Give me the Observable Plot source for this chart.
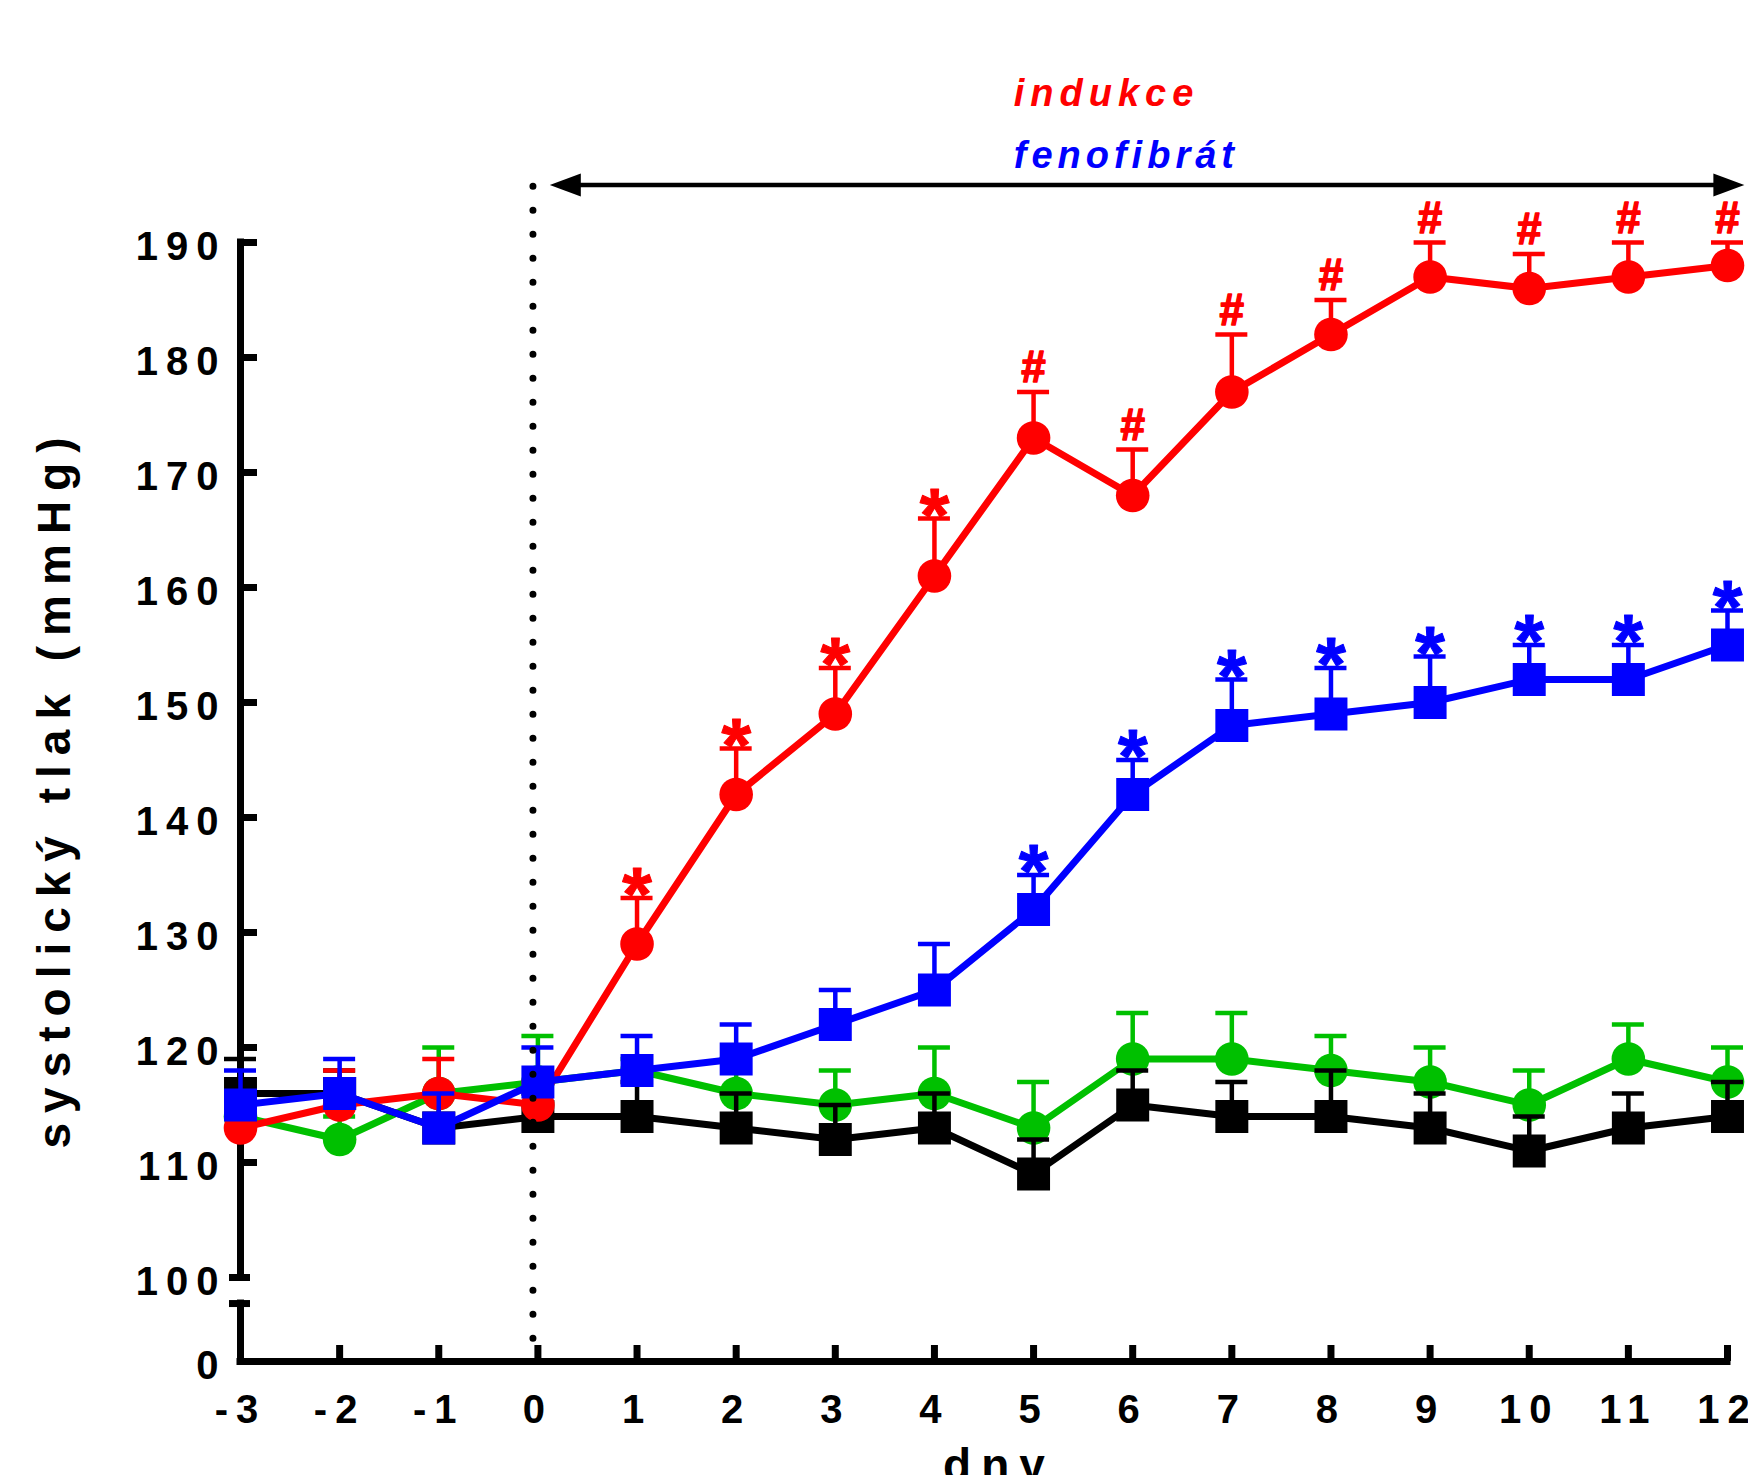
<!DOCTYPE html>
<html>
<head>
<meta charset="utf-8">
<script src="https://cdn.jsdelivr.net/npm/d3@7"></script>
<script src="https://cdn.jsdelivr.net/npm/@observablehq/plot@0.6"></script>
<style>
html, body { margin: 0; padding: 0; background: #fff; overflow: hidden; }
#chart svg { display: block; }
</style>
</head>
<body>
<div id="chart"></div>
<script>
// ---- data ----
const days = [-3, -2, -1, 0, 1, 2, 3, 4, 5, 6, 7, 8, 9, 10, 11, 12];

const greenMean  = [114, 112, 116, 117, 118, 116, 115, 116, 113, 119, 119, 118, 117, 115, 119, 117];
const greenUpper = [116, 114, 120, 121, 119, 119, 118, 120, 117, 123, 123, 121, 120, 118, 122, 120];

const blackMean  = [116, 116, 113, 114, 114, 113, 112, 113, 109, 115, 114, 114, 113, 111, 113, 114];
const blackUpper = [119, 118, 116, 116, 117, 116, 115, 116, 112, 118, 117, 118, 116, 114, 116, 117];

const redMean  = [113, 115, 116, 115, 129, 142, 149, 161, 173, 168, 177, 182, 187, 186, 187, 188];
const redUpper = [115, 118, 119, 117, 133, 146, 153, 166, 177, 172, 182, 185, 190, 189, 190, 190];

const blueMean  = [115, 116, 113, 117, 118, 119, 122, 125, 132, 142, 148, 149, 150, 152, 152, 155];
const blueUpper = [118, 119, 116, 120, 121, 122, 125, 129, 135, 145, 152, 153, 154, 155, 155, 158];

const redSig  = ["", "", "", "", "*", "*", "*", "*", "#", "#", "#", "#", "#", "#", "#", "#"];
const blueSig = ["", "", "", "", "", "", "", "", "*", "*", "*", "*", "*", "*", "*", "*"];
const noSig   = days.map(() => "");

const yTickValues = [0, 100, 110, 120, 130, 140, 150, 160, 170, 180, 190];
const xTickValues = days;
const yBreakEnds = [100, 69];
const yAxisSegments = [{y1: 100, y2: 190}, {y1: 0, y2: 69}];

const yTitle = "systolický tlak (mmHg)";
const xTitle = "dny";

// treatment period annotation (data units: days, mmHg)
const periodArrow = [{x1: 0.12, x2: 12.17, y: 195}];
const periodLine = [{x: -0.05, y1: 27, y2: 195}];
const periodLabels = [
  {text: "indukce", color: "#ff0000", x: 4.8, y: 201.9},
  {text: "fenofibrát", color: "#0000ff", x: 4.8, y: 196.5}
];

// ---- build series ----
const seriesDefs = [
  {color: "#00c000", symbol: "circle", mean: greenMean, upper: greenUpper, sig: noSig},
  {color: "#000000", symbol: "square", mean: blackMean, upper: blackUpper, sig: noSig},
  {color: "#ff0000", symbol: "circle", mean: redMean, upper: redUpper, sig: redSig},
  {color: "#0000ff", symbol: "square", mean: blueMean, upper: blueUpper, sig: blueSig}
];
const series = seriesDefs.map(s => ({
  ...s,
  rows: days.map((d, i) => ({day: d, mean: s.mean[i], upper: s.upper[i], sig: s.sig[i]}))
}));

const headRight = {draw(ctx) { ctx.moveTo(0, 0); ctx.lineTo(-31, -11.5); ctx.lineTo(-31, 11.5); ctx.closePath(); }};
const headLeft  = {draw(ctx) { ctx.moveTo(0, 0); ctx.lineTo(31, -11.5); ctx.lineTo(31, 11.5); ctx.closePath(); }};

const FONT = "Liberation Sans, Arial, Helvetica, sans-serif";

const marks = [];

// axes
marks.push(Plot.ruleX(yAxisSegments, {x: days[0], y1: "y1", y2: "y2", stroke: "#000", strokeWidth: 7, strokeLinecap: "square"}));
marks.push(Plot.ruleY([0], {x1: days[0], x2: days[days.length - 1], stroke: "#000", strokeWidth: 7, strokeLinecap: "square"}));
marks.push(Plot.ruleY(yTickValues.filter(v => v > 100), {y: d => d, x1: days[0], x2: days[0], insetRight: -17, stroke: "#000", strokeWidth: 7}));
marks.push(Plot.ruleY(yBreakEnds, {y: d => d, x1: days[0], x2: days[0], insetLeft: -11, insetRight: -10, stroke: "#000", strokeWidth: 7}));
marks.push(Plot.ruleX(xTickValues.slice(1), {x: d => d, y1: 0, y2: 0, insetTop: -16, stroke: "#000", strokeWidth: 7}));

// tick labels
marks.push(Plot.text(yTickValues, {x: days[0], y: d => d, text: d => String(d), textAnchor: "end", lineAnchor: "middle", dx: -14, dy: 5, fontSize: 40, fontWeight: "bold", fill: "#000"}));
marks.push(Plot.text(xTickValues, {x: d => d, y: 0, text: d => String(d), textAnchor: "middle", lineAnchor: "bottom", dx: 0, dy: 61, fontSize: 40, fontWeight: "bold", fill: "#000"}));

// titles
marks.push(Plot.text([yTitle], {frameAnchor: "left", text: d => d, rotate: -90, textAnchor: "middle", lineAnchor: "middle", dx: -185, dy: -14, fontSize: 46, fontWeight: "bold", fill: "#000"}));
marks.push(Plot.text([xTitle], {frameAnchor: "bottom", text: d => d, textAnchor: "middle", lineAnchor: "bottom", dx: 15, dy: 119, fontSize: 46, fontWeight: "bold", fill: "#000"}));

// series
for (const s of series) {
  marks.push(Plot.ruleX(s.rows, {x: "day", y1: "mean", y2: "upper", stroke: s.color, strokeWidth: 4.5}));
  marks.push(Plot.ruleY(s.rows, {y: "upper", x1: "day", x2: "day", insetLeft: -16, insetRight: -16, stroke: s.color, strokeWidth: 4.5}));
  marks.push(Plot.line(s.rows, {x: "day", y: "mean", stroke: s.color, strokeWidth: 7, strokeLinejoin: "round"}));
  marks.push(Plot.dot(s.rows, {x: "day", y: "mean", symbol: s.symbol, r: s.symbol === "square" ? 18.6 : 16.8, fill: s.color, stroke: "none"}));
  marks.push(Plot.text(s.rows.filter(r => r.sig === "*"), {x: "day", y: "upper", text: "sig", textAnchor: "middle", lineAnchor: "bottom", dy: 22, fontSize: 76, fontWeight: "bold", fill: s.color, stroke: s.color, strokeWidth: 1}));
  marks.push(Plot.text(s.rows.filter(r => r.sig === "#"), {x: "day", y: "upper", text: "sig", textAnchor: "middle", lineAnchor: "bottom", dy: -10, fontSize: 44, fontWeight: "bold", fill: s.color, stroke: s.color, strokeWidth: 1.5}));
}

// period annotation
marks.push(Plot.ruleY(periodArrow, {y: "y", x1: "x1", x2: "x2", insetLeft: 10, insetRight: 10, stroke: "#000", strokeWidth: 4.5}));
marks.push(Plot.dot(periodArrow, {x: "x2", y: "y", symbol: headRight, fill: "#000", stroke: "none"}));
marks.push(Plot.dot(periodArrow, {x: "x1", y: "y", symbol: headLeft, fill: "#000", stroke: "none"}));
marks.push(Plot.ruleX(periodLine, {x: "x", y1: "y1", y2: "y2", stroke: "#000", strokeWidth: 7, strokeDasharray: "0 24", strokeLinecap: "round"}));
marks.push(Plot.text(periodLabels, {x: "x", y: "y", text: "text", fill: "color", textAnchor: "start", lineAnchor: "bottom", fontSize: 38, fontWeight: "bold", fontStyle: "italic"}));

const chart = Plot.plot({
  width: 1748,
  height: 1475,
  marginLeft: 240,
  marginRight: 21,
  marginTop: 242,
  marginBottom: 114,
  style: {fontFamily: FONT, background: "#fff", overflow: "hidden"},
  x: {type: "linear", domain: [days[0], days[days.length - 1]], axis: null},
  y: {type: "linear", domain: [0, 100, 190], range: [1361, 1277, 242], axis: null},
  marks
});

// letter spacing of the bold labels
const spacing = new Map([[yTitle, 10], [xTitle, 10], ["indukce", 6], ["fenofibrát", 5]]);
d3.select(chart).selectAll("text").each(function () {
  const t = this.textContent;
  if (t === "*" || t === "#") return;
  this.style.letterSpacing = (spacing.has(t) ? spacing.get(t) : 8) + "px";
});

document.getElementById("chart").appendChild(chart);
</script>
</body>
</html>
